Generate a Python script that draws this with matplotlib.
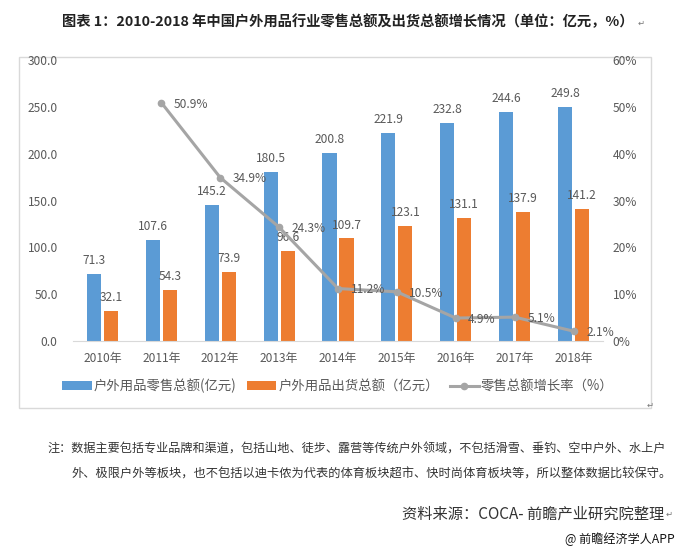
import numpy as np
import matplotlib
matplotlib.use('Agg')
import matplotlib.pyplot as plt
from matplotlib.patches import Rectangle

plt.rcParams['font.family'] = ['Noto Sans CJK SC', 'DejaVu Sans']

years = ['2010年', '2011年', '2012年', '2013年', '2014年', '2015年', '2016年', '2017年', '2018年']
retail = [71.3, 107.6, 145.2, 180.5, 200.8, 221.9, 232.8, 244.6, 249.8]
shipment = [32.1, 54.3, 73.9, 96.6, 109.7, 123.1, 131.1, 137.9, 141.2]
growth = [np.nan, 50.9, 34.9, 24.3, 11.2, 10.5, 4.9, 5.1, 2.1]
left_ticks = [0, 50, 100, 150, 200, 250, 300]
right_ticks = [0, 10, 20, 30, 40, 50, 60]

W, H = 680, 551
BLUE = '#5b9bd5'
ORANGE = '#ed7d31'
GREY = '#a5a5a5'
TXT = '#595959'

fig = plt.figure(figsize=(W/100, H/100), dpi=100)

# outer chart frame, kept behind the axes
fig.add_artist(Rectangle((19/W, 1-408/H), 632/W, 351/H, transform=fig.transFigure,
                         fc='white', ec='#d9d9d9', lw=1, zorder=-1))

ax = fig.add_axes([73/W, 1-341/H, 530/W, 281/H])
ax.patch.set_alpha(0)
x = np.arange(len(years))
bw = 0.24
b1 = ax.bar(x-0.145, retail, bw, color=BLUE, label='户外用品零售总额(亿元)')
b2 = ax.bar(x+0.145, shipment, bw, color=ORANGE, label='户外用品出货总额（亿元）')
ax.set_xlim(-0.5, 8.5)
ax.set_ylim(0, 300)
ax.set_xticks(x, years)
ax.set_yticks(left_ticks, [f'{v:.1f}' for v in left_ticks])
ax.tick_params(length=0, labelsize=8.6, labelcolor=TXT, pad=8)
ax.tick_params(axis='y', pad=11)
for s in ['top', 'left', 'right']:
    ax.spines[s].set_visible(False)
ax.spines['bottom'].set_color('#d9d9d9')

for i in range(len(years)):
    ax.annotate(f'{retail[i]:.1f}', (x[i]-0.145, retail[i]), xytext=(0, 7), textcoords='offset points',
                ha='center', fontsize=8.6, color=TXT)
    ax.annotate(f'{shipment[i]:.1f}', (x[i]+0.145, shipment[i]), xytext=(0, 7), textcoords='offset points',
                ha='center', fontsize=8.6, color=TXT)

ax2 = ax.twinx()
line, = ax2.plot(x, growth, color=GREY, lw=2.2, marker='o', ms=4.5, label='零售总额增长率（%）')
ax2.set_ylim(0, 60)
ax2.set_yticks(right_ticks, [f'{v}%' for v in right_ticks])
ax2.tick_params(length=0, labelsize=8.6, labelcolor=TXT, pad=7)
for s in ax2.spines.values():
    s.set_visible(False)
for i in range(1, len(years)):
    ax2.annotate(f'{growth[i]}%', (x[i], growth[i]), xytext=(9, -1), textcoords='offset points',
                 va='center', fontsize=8.6, color=TXT)

fig.legend(handles=[b1, b2, line], loc='center', bbox_to_anchor=(338/W, 1-386/H), ncol=3, frameon=False,
           fontsize=9.6, labelcolor=TXT, columnspacing=0.8, handlelength=2.2, handletextpad=0.15)

fig.text(348/W, 1-22/H, '图表 1：2010-2018 年中国户外用品行业零售总额及出货总额增长情况（单位：亿元，%）',
         ha='center', va='center', fontsize=10.3, fontweight='bold', color='#222222')

note1 = '注：数据主要包括专业品牌和渠道，包括山地、徒步、露营等传统户外领域，不包括滑雪、垂钓、空中户外、水上户'
note2 = '外、极限户外等板块，也不包括以迪卡侬为代表的体育板块超市、快时尚体育板块等，所以整体数据比较保守。'
fig.text(47/W, 1-449/H, note1, ha='left', va='center', fontsize=8.7, color='#333333')
fig.text(71/W, 1-474/H, note2, ha='left', va='center', fontsize=8.8, color='#333333')
fig.text(664/W, 1-514/H, '资料来源：COCA- 前瞻产业研究院整理', ha='right', va='center', fontsize=11, color='#333333')
fig.text(675/W, 1-539/H, '@ 前瞻经济学人APP', ha='right', va='center', fontsize=8.7, color='#111111')

# paragraph marks left over from the document layout
for px, py in [(641, 23), (650, 405), (669, 514)]:
    fig.text(px/W, 1-py/H, '↵', ha='center', va='center', fontsize=6, color='#777777')

fig.savefig('out.png', dpi=100)
